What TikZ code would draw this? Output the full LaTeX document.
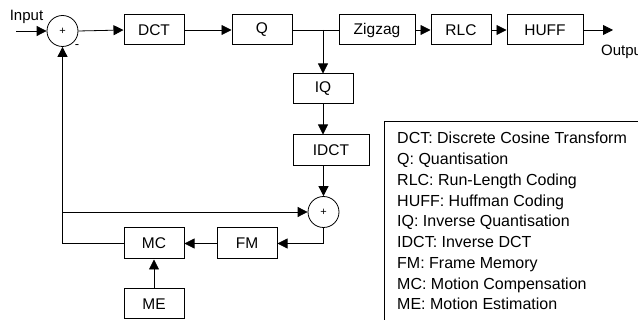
\documentclass[tikz,border=0pt]{standalone}
\usepackage{fontspec}
\setmainfont{Liberation Sans}
\usepackage{xcolor}
\usetikzlibrary{positioning, arrows.meta}

\tikzset{
  blk/.style={draw, line width=1pt, minimum width=60pt, minimum height=30pt,
              inner sep=0pt, font=\fontsize{15.5}{18}\selectfont},
  sumnode/.style={draw, circle, line width=0.8pt, minimum size=31pt,
              inner sep=0pt, font=\fontsize{11}{12}\selectfont},
  wire/.style={line width=0.8pt},
  flow/.style={wire, -{Triangle[length=10pt,width=10pt]}},
  lbl/.style={inner sep=0pt, font=\fontsize{15}{18}\selectfont},
}

\begin{document}
\begin{tikzpicture}[x=1pt, y=-1pt]
    \useasboundingbox (0,0) rectangle (638,320);

    \node[sumnode] (sum1) at (62.5,31) {+};
    \node[blk] (dct) at (154,30) {DCT};
    \node[blk] (q) at (262,30) {Q};
    \node[blk, minimum width=76pt] (zigzag) at (377,30) {Zigzag};
    \node[blk] (rlc) at (461,30) {RLC};
    \node[blk, minimum width=76pt] (huff) at (545,30) {HUFF};
    \node[blk] (iq) at (323,89) {IQ};
    \node[blk, minimum width=76pt, minimum height=31pt] (idct) at (331,150.5) {IDCT};
    \node[sumnode] (sum2) at (323.5,212) {+};
    \node[blk, minimum height=31pt] (mc) at (154,243.5) {MC};
    \node[blk, minimum height=31pt] (fm) at (247,243.5) {FM};
    \node[blk] (me) at (154,304) {ME};

    \coordinate (in) at (16,31);
    \coordinate (out) at (613,30);
    \coordinate (branch) at (323,30);
    \coordinate (tap) at (sum1 |- sum2);

    \node[lbl, anchor=south] (inlabel) at (26.5,24) {Input};
    \node[lbl, anchor=west] (outlabel) at (601,52) {Output};
    \node[inner sep=0pt, font=\fontsize{13}{14}\selectfont] (minus) at (77,47) {-};

    \draw[flow] (in) -- (sum1.west);
    \draw[flow] (sum1.east) -- (dct.west);
    \draw[flow] (dct.east) -- (q.west);
    \draw[wire] (q.east) -- (zigzag.west);
    \draw[flow] (zigzag.east) -- (rlc.west);
    \draw[flow] (rlc.east) -- (huff.west);
    \draw[flow] (huff.east) -- (out);
    \draw[flow] (branch) -- (iq.north);
    \draw[flow] (iq.south) -- (iq.south |- idct.north);
    \draw[flow] (sum2.north |- idct.south) -- (sum2.north);
    \draw[flow] (tap) -- (sum2.west);
    \draw[flow] (mc.west) -| (sum1.south);
    \draw[flow] (sum2.south) |- (fm.east);
    \draw[flow] (fm.west) -- (mc.east);
    \draw[flow] (me.north) -- (mc.south);

    \draw[line width=1pt] (384,122) rectangle (660,340);
    \node[anchor=north west, inner sep=0pt, align=left,
          font=\fontsize{16}{20.75}\selectfont] (legend) at (397,132) {%
      DCT: Discrete Cosine Transform\\
      Q: Quantisation\\
      RLC: Run-Length Coding\\
      HUFF: Huffman Coding\\
      IQ: Inverse Quantisation\\
      IDCT: Inverse DCT\\
      FM: Frame Memory\\
      MC: Motion Compensation\\
      ME: Motion Estimation};
\end{tikzpicture}
\end{document}
